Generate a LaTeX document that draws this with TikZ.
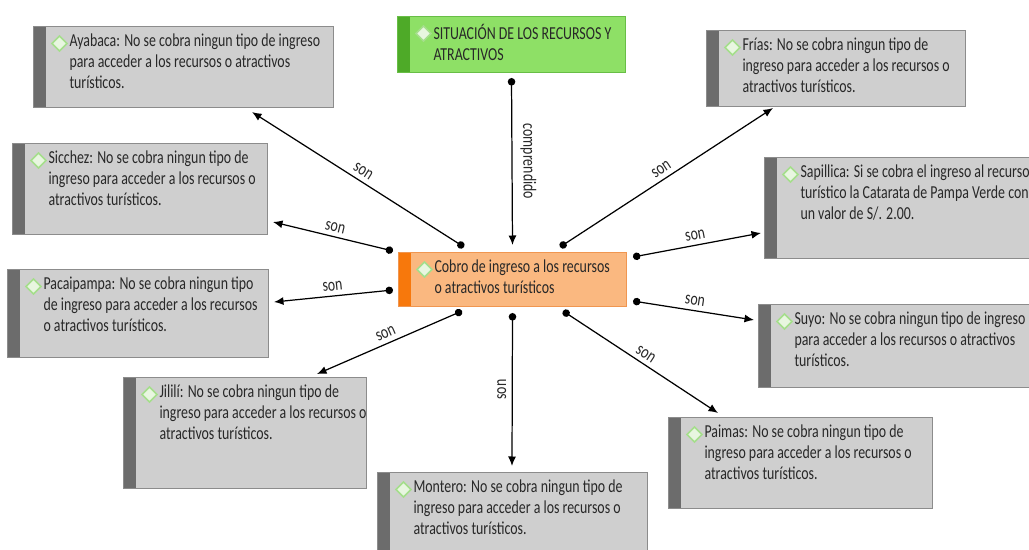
\documentclass[tikz,border=0pt]{standalone}
\usepackage{fontspec}
\setmainfont{Carlito}[FakeStretch=0.76]
\usepackage{tikz}
\usetikzlibrary{arrows.meta}
\tikzset{>={Latex[width=1.6mm,length=1.9mm]}}

\definecolor{grisfondo}{RGB}{207,207,207}
\definecolor{grisborde}{RGB}{140,140,140}
\definecolor{grisbarra}{RGB}{108,108,108}
\definecolor{verdefondo}{RGB}{142,224,102}
\definecolor{verdeborde}{RGB}{104,190,70}
\definecolor{verdebarra}{RGB}{78,170,40}
\definecolor{naranjafondo}{RGB}{250,184,128}
\definecolor{naranjaborde}{RGB}{240,150,80}
\definecolor{naranjabarra}{RGB}{247,120,12}
\definecolor{rombofondo}{RGB}{232,246,224}
\definecolor{romborde}{RGB}{165,222,140}
\definecolor{texto}{RGB}{40,40,40}

\newcommand{\caja}[3]{\parbox[c][#2][t]{#1}{\raggedright\leftskip=0.72cm\vspace*{0.15cm}#3}}

\tikzset{
  concepto/.style args={#1/#2/#3}{draw=#3, fill=#1, line width=0.6pt, inner sep=0pt,
    anchor=north west, text=texto,
    path picture={
      \fill[#2] (path picture bounding box.north west) rectangle ([xshift=0.24cm]path picture bounding box.south west);
      \filldraw[fill=rombofondo, draw=romborde, line width=0.9pt]
        ([shift={(0.52cm,-0.34cm)}]path picture bounding box.north west)
        +(0,0.15cm) -- +(0.15cm,0) -- +(0,-0.15cm) -- +(-0.15cm,0) -- cycle;
    }},
  cajagris/.style={concepto=grisfondo/grisbarra/grisborde},
  cajaverde/.style={concepto=verdefondo/verdebarra/verdeborde},
  cajanaranja/.style={concepto=naranjafondo/naranjabarra/naranjaborde},
  enlace/.style={draw=black, line width=0.7pt, {Circle[length=1.5mm]}->},
  frase/.style={text=texto, inner sep=2.5pt},
}

\begin{document}
\begin{tikzpicture}[x=0.02cm, y=-0.02cm, font=\fontsize{10.4}{12}\selectfont]
    \useasboundingbox (0,0) rectangle (1029,550);
    \clip (0,0) rectangle (1029,550);

    \node[cajaverde] (situacion) at (397,16) {\caja{4.56cm}{1.12cm}{SITUACIÓN DE LOS RECURSOS Y\\ATRACTIVOS}};
    \node[cajanaranja] (centro) at (398,252) {\caja{4.56cm}{1.08cm}{Cobro de ingreso a los recursos\\o atractivos turísticos}};

    \node[cajagris] (ayabaca) at (33,26) {\caja{6.0cm}{1.62cm}{Ayabaca: No se cobra ningun tipo de ingreso\\para acceder a los recursos o atractivos\\turísticos.}};
    \node[cajagris] (sicchez) at (12,143) {\caja{5.1cm}{1.82cm}{Sicchez: No se cobra ningun tipo de\\ingreso para acceder a los recursos o\\atractivos turísticos.}};
    \node[cajagris] (pacaipampa) at (7,269) {\caja{5.22cm}{1.76cm}{Pacaipampa: No se cobra ningun tipo\\de ingreso para acceder a los recursos\\o atractivos turísticos.}};
    \node[cajagris] (jilili) at (123,377) {\caja{4.86cm}{2.22cm}{Jililí: No se cobra ningun tipo de\\ingreso para acceder a los recursos o\\atractivos turísticos.}};
    \node[cajagris] (montero) at (377,472) {\caja{5.4cm}{2.0cm}{Montero: No se cobra ningun tipo de\\ingreso para acceder a los recursos o\\atractivos turísticos.}};
    \node[cajagris] (paimas) at (668,417) {\caja{5.28cm}{1.82cm}{Paimas: No se cobra ningun tipo de\\ingreso para acceder a los recursos o\\atractivos turísticos.}};
    \node[cajagris] (suyo) at (758,304) {\caja{6.0cm}{1.66cm}{Suyo: No se cobra ningun tipo de ingreso\\para acceder a los recursos o atractivos\\turísticos.}};
    \node[cajagris] (sapillica) at (764,157) {\caja{6.0cm}{2.02cm}{Sapillica: Si se cobra el ingreso al recurso\\turístico la Catarata de Pampa Verde con\\un valor de S/. 2.00.}};
    \node[cajagris] (frias) at (706,30) {\caja{5.18cm}{1.52cm}{Frías: No se cobra ningun tipo de\\ingreso para acceder a los recursos o\\atractivos turísticos.}};

    \draw[enlace] ([shift={(0,5)}]situacion.south) -- node[frase, midway, sloped, above=2pt] {comprendido} ([shift={(0,-7)}]centro.north);

    \draw[enlace] ([shift={(66,-5)}]centro.north west) -- node[frase, midway, sloped, above] {son} ([shift={(219,4)}]ayabaca.south west);
    \draw[enlace] ([shift={(-5,-1)}]centro.north west) -- node[frase, midway, sloped, above] {son} ([shift={(5,79)}]sicchez.north east);
    \draw[enlace] ([shift={(-5,38)}]centro.north west) -- node[frase, midway, sloped, above] {son} ([shift={(5,33)}]pacaipampa.north east);
    \draw[enlace] ([shift={(64,4)}]centro.south west) -- node[frase, midway, sloped, above] {son} ([shift={(194,-3)}]jilili.north west);
    \draw[enlace] ([shift={(0,6)}]centro.south) -- node[frase, midway, rotate=90, anchor=south, inner sep=3pt] {son} ([shift={(135,-6)}]montero.north west);
    \draw[enlace] ([shift={(-64,4)}]centro.south east) -- node[frase, midway, sloped, above] {son} ([shift={(50,-4)}]paimas.north west);
    \draw[enlace] ([shift={(6,-6)}]centro.south east) -- node[frase, midway, sloped, above] {son} ([shift={(-4,16)}]suyo.north west);
    \draw[enlace] ([shift={(6,5)}]centro.north east) -- node[frase, midway, sloped, above] {son} ([shift={(-3,76)}]sapillica.north west);
    \draw[enlace] ([shift={(-67,-5)}]centro.north east) -- node[frase, midway, sloped, above] {son} ([shift={(67,1)}]frias.south west);
\end{tikzpicture}
\end{document}
